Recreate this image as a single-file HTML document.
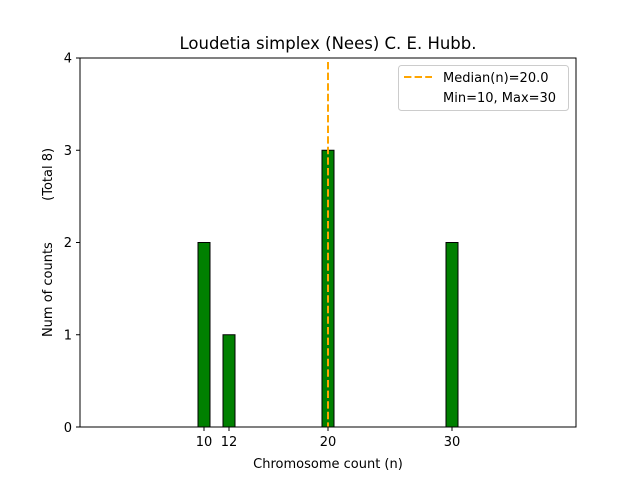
<!DOCTYPE html>
<html><head><style>body{margin:0;background:#fff}</style></head><body>
<svg width="640" height="480" xmlns="http://www.w3.org/2000/svg" font-family="DejaVu Sans, Liberation Sans, sans-serif">
<rect width="640" height="480" fill="#fff"/>
<line x1="80" y1="427" x2="495" y2="427" stroke="#888" stroke-width="1"/>
<g fill="green" stroke="#000" stroke-width="1">
<rect x="198" y="242.5" width="12" height="184.5"/>
<rect x="223" y="334.75" width="12" height="92.25"/>
<rect x="322" y="150.25" width="12" height="276.75"/>
<rect x="446" y="242.5" width="12" height="184.5"/>
</g>
<line x1="328" y1="62" x2="328" y2="427" stroke="orange" stroke-width="2" stroke-dasharray="7.4,3.2"/>
<rect x="80" y="58" width="496" height="369" fill="none" stroke="#000" stroke-width="1"/>
<g stroke="#000" stroke-width="1">
<line x1="204" y1="427" x2="204" y2="431"/><line x1="229" y1="427" x2="229" y2="431"/>
<line x1="328" y1="427" x2="328" y2="431"/><line x1="452" y1="427" x2="452" y2="431"/>
<line x1="76" y1="427" x2="80" y2="427"/><line x1="76" y1="334.75" x2="80" y2="334.75"/>
<line x1="76" y1="242.5" x2="80" y2="242.5"/><line x1="76" y1="150.25" x2="80" y2="150.25"/>
<line x1="76" y1="58" x2="80" y2="58"/>
</g>
<g font-size="13" fill="#000" text-anchor="middle">
<text x="204" y="446">10</text><text x="229" y="446">12</text><text x="328" y="446">20</text><text x="452" y="446">30</text>
</g>
<g font-size="13" fill="#000" text-anchor="end">
<text x="72" y="432">0</text><text x="72" y="339.5">1</text><text x="72" y="247">2</text><text x="72" y="155">3</text><text x="72" y="62.5">4</text>
</g>
<text x="328" y="468" font-size="13" text-anchor="middle">Chromosome count (n)</text>
<text transform="translate(52,242.5) rotate(-90)" font-size="13" text-anchor="middle" style="white-space:pre">Num of counts          (Total 8)</text>
<text x="328" y="49" font-size="16.5" text-anchor="middle">Loudetia simplex (Nees) C. E. Hubb.</text>
<rect x="398.5" y="65.5" width="170" height="45" rx="3" fill="#fff" fill-opacity="0.8" stroke="#ccc"/>
<line x1="404" y1="77" x2="432" y2="77" stroke="orange" stroke-width="2" stroke-dasharray="7.4,3.2"/>
<text x="443" y="82" font-size="13">Median(n)=20.0</text>
<text x="443" y="102" font-size="13">Min=10, Max=30</text>
</svg>
</body></html>
